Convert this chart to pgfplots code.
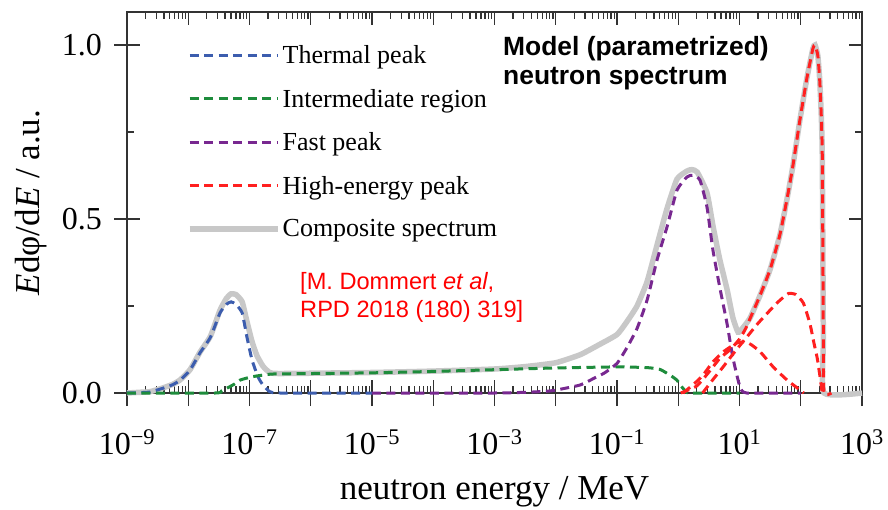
\documentclass[border=0pt]{standalone}
\usepackage{fontspec}
\setmainfont{Liberation Serif}
\newfontfamily\arialfont{Liberation Sans}
\usepackage{pgfplots}
\pgfplotsset{compat=1.18}
\definecolor{cblue}{HTML}{3C5DAE}
\definecolor{cgreen}{HTML}{1E8C3C}
\definecolor{cpurple}{HTML}{782890}
\definecolor{cred}{HTML}{FF2020}
\definecolor{cgray}{HTML}{C8C8C8}
\begin{document}
\begin{tikzpicture}
\useasboundingbox (-127pt,-116pt) rectangle (761pt,393pt);
\begin{axis}[
  at={(0pt,0pt)}, anchor=south west,
  scale only axis, width=735pt, height=381pt,
  xmode=log, xmin=1e-9, xmax=1e3, ymin=0, ymax=1.095,
  clip=false,
  axis line style={line width=1.4pt, black!80},
  every tick/.style={line width=1.3pt, black!80},
  tick align=inside,
  major tick length=13pt, minor tick length=7pt,
  xtick={1e-9,1e-8,1e-7,1e-6,1e-5,1e-4,1e-3,1e-2,1e-1,1e0,1e1,1e2,1e3},
  xticklabels={10\textsuperscript{−9},,10\textsuperscript{−7},,10\textsuperscript{−5},,10\textsuperscript{−3},,10\textsuperscript{−1},,10\textsuperscript{1},,10\textsuperscript{3}},
  extra x ticks={1e-9,1e-8,1e-7,1e-6,1e-5,1e-4,1e-3,1e-2,1e-1,1e0,1e1,1e2,1e3},
  extra x tick labels={,,,,,,,,,,,,},
  extra x tick style={tick align=outside, xtick pos=left},
  ytick={0,0.5,1}, yticklabels={0.0,0.5,1.0},
  minor ytick={0.25,0.75},
  extra y ticks={0,0.5,1}, extra y tick labels={,,},
  extra y tick style={tick align=outside, ytick pos=left},
  tick label style={font=\fontsize{32}{32}\selectfont},
  xticklabel style={anchor=base, yshift=-61pt, inner sep=0pt},
  yticklabel style={anchor=east, xshift=-25pt, inner sep=0pt},
  xlabel={neutron energy / MeV},
  ylabel={\textit{E}dφ/d\textit{E} / a.u.},
  label style={font=\fontsize{35}{35}\selectfont},
  xlabel style={at={(axis description cs:0.5,-0.2808)}, anchor=base, inner sep=0pt},
  ylabel style={at={(axis description cs:-0.1184,0.5)}, anchor=base, inner sep=0pt},
  legend style={at={(axis description cs:0.0816,0.918)}, anchor=north west, draw=none, fill=none,
    font=\fontsize{26}{26}\selectfont, row sep=20pt, inner sep=0pt, cells={anchor=west}},
  legend image code/.code={\draw[#1] (0pt,0pt) -- (80pt,0pt); \path (0pt,0pt) -- (88pt,0pt);},
  every axis plot/.append style={smooth, tension=0.3},
]
% composite
\addplot[cgray, line width=5.5pt, forget plot] coordinates {
(1e-9,0) (1.6e-9,0.002) (2.4e-9,0.004) (3.9e-9,0.015) (5.6e-9,0.025) (7.4e-9,0.038)
(1.07e-8,0.067) (1.55e-8,0.117) (2.3e-8,0.163) (3.3e-8,0.238) (4.2e-8,0.272) (5.0e-8,0.285)
(6.0e-8,0.283) (7.6e-8,0.262) (9.1e-8,0.205) (1.1e-7,0.148) (1.32e-7,0.108) (1.66e-7,0.077)
(2.14e-7,0.059) (3.2e-7,0.056) (1e-5,0.059) (1e-4,0.063) (1e-3,0.069) (3.2e-3,0.076)
(1e-2,0.087) (2.5e-2,0.11) (5e-2,0.138) (0.1,0.168) (0.145,0.205) (0.212,0.25) (0.31,0.32)
(0.45,0.425) (0.655,0.53) (0.955,0.615) (1.39,0.638) (1.66,0.642) (2.04,0.635) (2.95,0.575)
(3.72,0.477) (4.79,0.382) (6.3,0.296) (7.76,0.218) (9.46,0.175) (11.2,0.186) (14.8,0.215)
(21.6,0.28) (31.6,0.355) (45.7,0.455) (60,0.56) (74,0.65) (98,0.79) (126,0.905) (158,0.99)
(171,1.0) (190,0.97) (204,0.9) (216,0.8) (224,0.7) (229,0.45) (234,0.15) (240,0) (1000,0)
};
% thermal
\addplot[cblue, line width=3pt, dash pattern=on 9pt off 5.5pt] coordinates {
(1e-9,0) (1.6e-9,0.001) (2.4e-9,0.003) (3.9e-9,0.014) (5.6e-9,0.024) (7.4e-9,0.037)
(1.07e-8,0.066) (1.55e-8,0.115) (2.3e-8,0.16) (3.3e-8,0.23) (4.2e-8,0.255) (5.0e-8,0.262)
(6.0e-8,0.255) (7.6e-8,0.23) (9.1e-8,0.16) (1.1e-7,0.095) (1.38e-7,0.046) (1.66e-7,0.023)
(2.14e-7,0.004) (3.2e-7,0) (1e-5,0)
};
\addlegendentry{Thermal peak}
% intermediate
\addplot[cgreen, line width=3pt, dash pattern=on 9pt off 5.5pt] coordinates {
(1e-9,0) (2.75e-8,0) (3.5e-8,0.006) (4.3e-8,0.014) (5.6e-8,0.025) (7.0e-8,0.037)
(1e-7,0.045) (1.32e-7,0.049) (2.14e-7,0.054) (3.2e-7,0.055) (1e-5,0.058) (1e-4,0.062)
(1e-3,0.067) (1e-2,0.072) (0.1,0.075) (0.31,0.073) (0.5,0.068) (0.65,0.057) (0.8,0.047)
(0.95,0.037) (1.15,0.017) (1.32,0.005) (1.55,0) (10,0)
};
\addlegendentry{Intermediate region}
% fast
\addplot[cpurple, line width=3pt, dash pattern=on 9pt off 5.5pt] coordinates {
(1e-5,0) (1e-3,0) (3.2e-3,0.002) (7.2e-3,0.005) (1.05e-2,0.009) (2.5e-2,0.023) (4.5e-2,0.045)
(6.3e-2,0.058) (0.1,0.085) (0.145,0.13) (0.212,0.185) (0.31,0.267) (0.45,0.382) (0.655,0.477)
(0.955,0.583) (1.39,0.621) (1.74,0.626) (2.26,0.612) (2.94,0.535) (3.69,0.41) (4.81,0.30)
(6.25,0.20) (7.83,0.10) (10.2,0.017) (13.2,0) (100,0)
};
\addlegendentry{Fast peak}
% high-energy
\addplot[cred, line width=3pt, dash pattern=on 9pt off 5.5pt] coordinates {
(1.1,0) (2.0,0.02) (3.16,0.06) (4.8,0.1) (7.1,0.125) (10,0.155) (12.6,0.185) (14.8,0.213)
(21.6,0.28) (31.6,0.355) (45.7,0.455) (60,0.56) (74,0.65) (98,0.79) (126,0.905) (158,0.99)
(171,1.0) (190,0.97) (204,0.9) (216,0.8) (224,0.7) (229,0.45) (234,0.15) (240,0) (316,0)
};
\addlegendentry{High-energy peak}
\addplot[cred, line width=3pt, dash pattern=on 9pt off 5.5pt, forget plot] coordinates {
(1.2,0) (1.78,0.025) (2.5,0.05) (3.7,0.09) (5.6,0.12) (9.1,0.144) (12.6,0.147) (15.8,0.138)
(21.9,0.118) (35.5,0.075) (60,0.037) (87,0.015) (112,0)
};
\addplot[cred, line width=3pt, dash pattern=on 9pt off 5.5pt, forget plot] coordinates {
(2.5,0) (3.55,0.035) (5.4,0.075) (8.5,0.12) (13.2,0.161) (20,0.2) (31.6,0.238) (44.7,0.265)
(63,0.286) (83,0.283) (110,0.259) (141,0.2) (166,0.14) (186,0.1) (209,0.04) (224,0)
};
\addlegendimage{cgray, line width=5.5pt}
\addlegendentry{Composite spectrum}
\node[anchor=north west, inner sep=0pt, align=left,
  font=\arialfont\bfseries\fontsize{26.4}{29}\selectfont]
  at (axis description cs:0.5116,0.937) {Model (parametrized)\\neutron spectrum};
\node[anchor=north west, inner sep=0pt, align=left, text=red,
  font=\arialfont\fontsize{23.6}{28}\selectfont]
  at (axis description cs:0.2354,0.3176) {[M. Dommert \textit{et al},\\RPD 2018 (180) 319]};
\end{axis}
\end{tikzpicture}
\end{document}
